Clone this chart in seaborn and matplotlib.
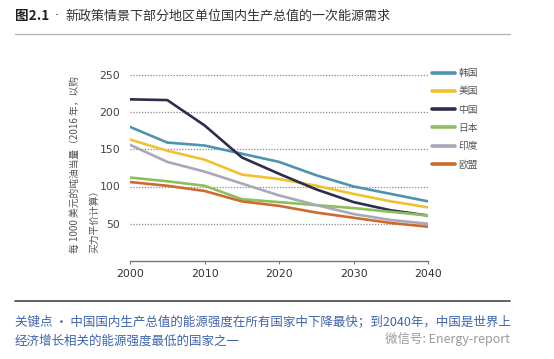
import matplotlib
matplotlib.use("Agg")
import matplotlib.pyplot as plt
from matplotlib.lines import Line2D
import seaborn as sns
import pandas as pd

years = [2000, 2005, 2010, 2015, 2020, 2025, 2030, 2035, 2040]
regions = ["韩国", "美国", "中国", "日本", "印度", "欧盟"]
korea = [180, 159, 155, 144, 133, 115, 100, 90, 80]
usa = [163, 148, 136, 116, 110, 101, 90, 80, 72]
china = [217, 216, 182, 139, 117, 96, 79, 68, 61]
japan = [112, 107, 101, 83, 79, 75, 71, 66, 61]
india = [156, 133, 120, 104, 88, 75, 63, 55, 50]
eu = [106, 101, 94, 80, 74, 65, 58, 51, 46]
colors = ["#4f94ae", "#f0c232", "#2e2d4d", "#8dbf5c", "#a9a8b6", "#cf6a2e"]
yticks = [50, 100, 150, 200, 250]
xticks = [2000, 2010, 2020, 2030, 2040]

title_num = "图2.1"
title_text = "新政策情景下部分地区单位国内生产总值的一次能源需求"
ylabel1 = "每 1000 美元的吨油当量（2016 年，以购"
ylabel2 = "买力平价计算）"
caption1 = "关键点 · 中国国内生产总值的能源强度在所有国家中下降最快；到2040年，中国是世界上"
caption2 = "经济增长相关的能源强度最低的国家之一"
watermark = "微信号: Energy-report"

series = [korea, usa, china, japan, india, eu]
df = pd.DataFrame({
    "year": years * len(regions),
    "value": [v for s in series for v in s],
    "region": [r for r in regions for _ in years],
})

sns.set_theme(style="white")
CJK = ["Noto Sans CJK SC", "DejaVu Sans"]
plt.rcParams["font.family"] = CJK

W, H = 554, 359
fig = plt.figure(figsize=(W / 100, H / 100), dpi=100)
fig.patch.set_facecolor("white")

def fx(px):
    return px / W

def fy(py):
    return 1 - py / H

ax_left, ax_right, ax_bottom = 130, 428.3, 261
ymax = 255
ax_top = ax_bottom - ymax * 0.745
ax = fig.add_axes([fx(ax_left), fy(ax_bottom), (ax_right - ax_left) / W, (ax_bottom - ax_top) / H])

sns.lineplot(data=df, x="year", y="value", hue="region", hue_order=regions,
             palette=dict(zip(regions, colors)), linewidth=1.9, ax=ax, legend=False)

ax.set_xlim(2000, 2040)
ax.set_ylim(0, ymax)
ax.set_xticks(xticks)
ax.set_yticks(yticks)
ax.set_xlabel("")
ax.set_ylabel("")
for s in ["top", "right", "left"]:
    ax.spines[s].set_visible(False)
ax.spines["bottom"].set_color("#777777")
ax.spines["bottom"].set_linewidth(1.0)
ax.yaxis.grid(True, linestyle=(0, (1, 1.3)), color="#8a8a8a", linewidth=0.9)
ax.xaxis.grid(False)
ax.tick_params(axis="y", length=0, pad=7, labelsize=7.8, labelcolor="#444444")
ax.tick_params(axis="x", length=2.5, width=0.8, color="#777777", direction="out",
               pad=3, labelsize=7.8, labelcolor="#333333", bottom=True)
for lab in ax.get_xticklabels() + ax.get_yticklabels():
    lab.set_family("DejaVu Sans")

handles = [Line2D([], [], color=c, lw=2.6) for c in colors]
ax.legend(handles, regions, loc="upper left", bbox_to_anchor=(fx(432), fy(68)),
          bbox_transform=fig.transFigure, frameon=False, fontsize=7,
          handlelength=2.4, handletextpad=0.3, labelspacing=0.85,
          labelcolor="#555555", borderaxespad=0, borderpad=0)

# y label (two rotated lines)
fig.text(fx(75), fy(253), ylabel1, rotation=90, ha="center", va="bottom",
         fontsize=7, color="#555555")
fig.text(fx(94), fy(253), ylabel2, rotation=90, ha="center", va="bottom",
         fontsize=7, color="#555555")

# title
fig.text(fx(15), fy(16), title_num, ha="left", va="center", fontsize=9.8,
         fontweight="bold", color="#222222")
fig.text(fx(57), fy(16), "·", ha="center", va="center", fontsize=9.5, color="#333333",
         family="DejaVu Sans")
fig.text(fx(65), fy(16), title_text, ha="left", va="center", fontsize=9.4,
         color="#333333")

# separators
fig.add_artist(Line2D([fx(15), fx(510)], [fy(34), fy(34)], color="#b5b5b5", lw=1.0))
fig.add_artist(Line2D([fx(15), fx(510)], [fy(301), fy(301)], color="#555555", lw=1.3))

# caption
fig.text(fx(15), fy(322), caption1, ha="left", va="center", fontsize=9.0, color="#3d64ad")
fig.text(fx(15), fy(341), caption2, ha="left", va="center", fontsize=9.0, color="#3d64ad")
fig.text(fx(510), fy(339), watermark, ha="right", va="center", fontsize=9,
         color="#9a9a9a")

fig.savefig("out.png", dpi=100, facecolor="white")
